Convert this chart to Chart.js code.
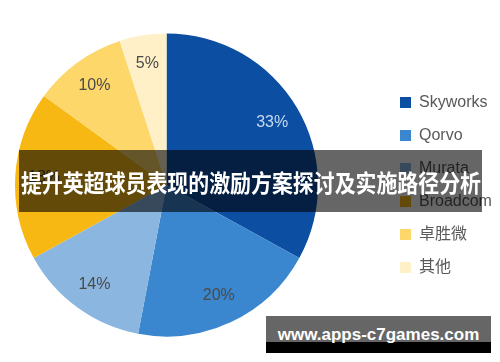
<!DOCTYPE html>
<html>
<head>
<meta charset="utf-8">
<script src="https://cdn.jsdelivr.net/npm/chart.js@4"></script>
<style>
  html, body { margin: 0; padding: 0; background: #fff; }
  #wrap { position: relative; width: 500px; height: 362px; overflow: hidden; }
  #banner {
    position: absolute; left: 19px; top: 150px; width: 463px; height: 62px;
    background: rgba(0, 0, 0, 0.6); color: #fff;
    font: bold 24px 'Noto Sans CJK SC', sans-serif;
    display: flex; align-items: center; justify-content: center; white-space: nowrap;
  }
  #banner span { display: inline-block; }
  #mark {
    position: absolute; left: 266px; top: 316px; width: 225px; height: 37px;
    background: linear-gradient(to bottom, #666 0, #666 26px, #000 26px, #000 100%);
  }
  #mark span {
    position: absolute; left: 0; right: 0; top: 9px; text-align: center;
    color: #fff; font: bold 17px 'Liberation Sans', Arial, sans-serif; line-height: 20px;
  }
</style>
</head>
<body>
<div id="wrap">
  <canvas id="c" width="500" height="362"></canvas>
  <div id="banner"><span id="title">提升英超球员表现的激励方案探讨及实施路径分析</span></div>
  <div id="mark"><span>www.apps-c7games.com</span></div>
</div>
<script>
// 데이터
const labels = ['Skyworks', 'Qorvo', 'Murata', 'Broadcom', '卓胜微', '其他'];
const shares = [33, 20, 14, 18, 10, 5];
const colors = ['#0b4ea2', '#3a86cf', '#8ab6e0', '#f8b814', '#fdd76a', '#fff0c8'];
const labelColors = ['#c9daf0', '#4a4a4a', '#4a4a4a', '#4a4a4a', '#4a4a4a', '#4a4a4a'];

// 제목 폭을 배너 안으로 맞춤
const title = document.getElementById('title');
const tw = title.getBoundingClientRect().width;
if (tw > 460) title.style.transform = 'scaleX(' + (460 / tw) + ')';

Chart.defaults.font.family = "'Liberation Sans', Arial, 'Noto Sans CJK SC', sans-serif";
Chart.defaults.color = '#595959';

// 조각 안 퍼센트 라벨
const pctLabels = {
  id: 'pctLabels',
  afterDatasetsDraw(chart) {
    const ctx = chart.ctx;
    ctx.save();
    ctx.font = "16px 'Liberation Sans', Arial, sans-serif";
    ctx.textAlign = 'center';
    ctx.textBaseline = 'middle';
    chart.getDatasetMeta(0).data.forEach((arc, i) => {
      const p = arc.getProps(['x', 'y', 'startAngle', 'endAngle', 'outerRadius'], true);
      const mid = (p.startAngle + p.endAngle) / 2;
      const r = p.outerRadius * 0.81;
      ctx.fillStyle = labelColors[i];
      ctx.fillText(shares[i] + '%', p.x + Math.cos(mid) * r, p.y + Math.sin(mid) * r);
    });
    ctx.restore();
  }
};

// 범례를 오른쪽으로 이동
const legendShift = {
  id: 'legendShift',
  afterLayout(chart, args, opts) {
    const lg = chart.legend;
    const dx = opts.left - lg.left;
    lg.left += dx;
    lg.right += dx;
  }
};

new Chart(document.getElementById('c'), {
  type: 'pie',
  data: {
    labels: labels,
    datasets: [{
      data: shares,
      backgroundColor: colors,
      borderWidth: 0
    }]
  },
  options: {
    responsive: false,
    animation: false,
    layout: { padding: { top: 33, bottom: 25, left: 15, right: 63 } },
    plugins: {
      legendShift: { left: 383 },
      legend: {
        position: 'right',
        labels: {
          boxWidth: 11,
          boxHeight: 11,
          padding: 17,
          color: '#595959',
          font: { size: 16 }
        }
      },
      tooltip: { enabled: false }
    }
  },
  plugins: [pctLabels, legendShift]
});
</script>
</body>
</html>
